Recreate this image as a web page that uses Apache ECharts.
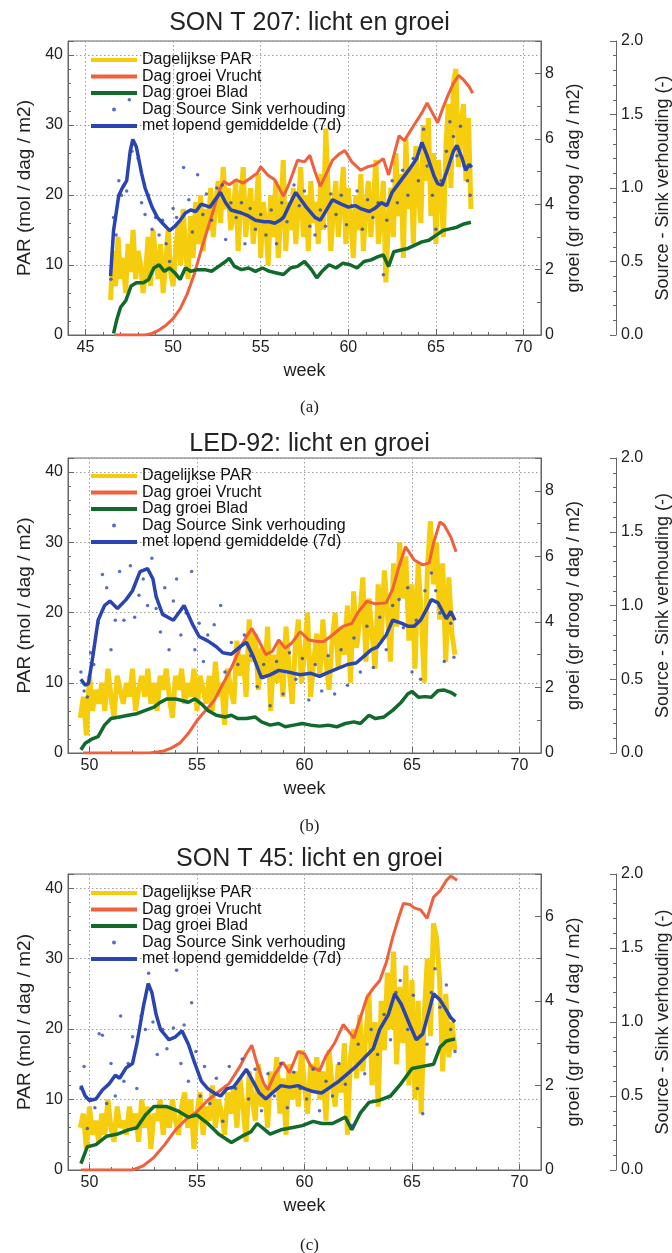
<!DOCTYPE html>
<html><head><meta charset="utf-8">
<script src="https://cdn.jsdelivr.net/npm/echarts@6/dist/echarts.min.js"></script>
<style>html,body{margin:0;padding:0;background:#fff}#c{width:672px;height:1253px}</style>
</head><body><div id="c"></div>
<script>
const FONT = '"Liberation Sans", Arial, Helvetica, sans-serif';
const SERIF = '"Liberation Serif", "DejaVu Serif", serif';
const panelTitles = ['SON T 207: licht en groei', 'LED-92: licht en groei', 'SON T 45: licht en groei'];
const captions = ['(a)', '(b)', '(c)'];
const legendNames = ['Dagelijkse PAR', 'Dag groei Vrucht', 'Dag groei Blad', 'Dag Source Sink verhouding', 'met lopend gemiddelde (7d)'];
const axisNames = ['PAR (mol / dag / m2)', 'groei (gr droog / dag / m2)', 'Source - Sink verhouding (-)', 'week'];
const weekMin = [44, 49, 49];
const weekMax = [71, 71, 71];
const parMax = [42, 42, 42];
const groeiMax = [9, 9, 7];
const ratioMax = [2, 2, 2];

// ---------- panel (a) SON T 207 ----------
const parStartA = 46.43; // week of first daily value
const parA = [5,12,7,14,8,11,6, 13,9,15,8,12,10,6, 9,14,7,15,11,8,13, 6,10,15,9,7,12,16,
  10,18,12,8,17,11,19, 13,20,12,18,15,21,14, 19,22,16,24,18,21,15, 17,22,12,19,24,14,18,
  21,13,17,23,11,19,16, 10,20,14,22,11,17,25, 12,19,15,21,13,18,24, 14,20,12,22,16,19,13,
  23,15,29.5,20,12,18,22, 14,19,24,13,21,16,11, 20,15,23,12,18,22,14, 19,25,13,17,22,7.5,16,
  21,14,26,17,23,11,28, 18,24,13,27,20,16,30, 22,31,17,26,13,25,20, 14,27,33,21,36,38,24,
  30,33,22,31,18];
const fruitA = [[46.7,0],[48.4,0],[48.8,0.05],[49.2,0.15],[49.6,0.3],[50.0,0.5],[50.4,0.8],[50.8,1.25],[51.2,1.85],[51.6,2.6],[52.0,3.3],[52.4,4.0],[52.7,4.5],[52.9,4.7],[53.2,4.6],[53.6,4.75],[54.0,4.65],[54.4,4.8],[54.8,4.95],[55.0,5.15],[55.4,4.9],[55.8,4.75],[56.1,4.45],[56.3,4.25],[56.6,4.6],[57.1,5.35],[57.5,5.3],[57.8,5.5],[58.1,5.0],[58.4,4.55],[58.8,5.0],[59.1,5.35],[59.5,5.55],[59.8,5.65],[60.2,5.3],[60.7,5.05],[61.1,5.15],[61.5,5.2],[62.0,5.4],[62.3,4.9],[62.6,5.5],[62.9,6.1],[63.2,5.95],[63.6,6.3],[63.9,6.55],[64.2,6.8],[64.5,7.1],[64.8,6.8],[65.1,6.5],[65.4,6.95],[65.7,7.35],[66.0,7.7],[66.3,7.95],[66.6,7.8],[66.9,7.6],[67.1,7.4]];
const leafA = [[46.6,0.05],[46.8,0.5],[47.0,0.85],[47.3,1.05],[47.6,1.5],[47.9,1.6],[48.3,1.6],[48.6,1.7],[48.9,2.05],[49.2,2.15],[49.5,1.95],[49.8,2.05],[50.1,1.9],[50.4,1.7],[50.7,2.05],[51.0,1.95],[51.4,2.0],[51.8,2.0],[52.2,1.95],[52.6,2.1],[53.0,2.25],[53.2,2.35],[53.5,2.1],[53.9,2.0],[54.3,2.05],[54.7,1.95],[55.1,2.05],[55.5,1.95],[55.9,1.9],[56.3,1.85],[56.7,2.05],[57.1,2.1],[57.5,2.25],[57.9,2.0],[58.2,1.75],[58.5,1.95],[58.9,2.15],[59.3,2.05],[59.7,2.2],[60.1,2.15],[60.5,2.05],[60.9,2.25],[61.3,2.3],[61.7,2.4],[62.0,2.45],[62.3,2.1],[62.6,2.55],[63.0,2.6],[63.4,2.65],[63.8,2.75],[64.2,2.85],[64.6,2.9],[65.0,3.05],[65.4,3.2],[65.8,3.25],[66.2,3.3],[66.6,3.4],[67.0,3.45]];
const dotsA = [[46.45,0.38],[46.6,0.8],[46.75,0.68],[46.9,1.05],[47.05,0.95],[47.2,1.02],[47.35,0.98],[47.5,1.6],[47.65,1.25],[47.8,1.3],[48.0,1.2],[48.2,0.9],[48.4,0.82],[48.6,0.95],[48.8,0.72],[49.0,0.8],[49.2,0.68],[49.4,0.78],[49.6,0.62],[49.8,0.5],[50.0,0.86],[50.2,0.8],[50.6,1.14],[50.9,0.92],[51.1,0.7],[51.4,1.09],[51.7,0.82],[51.9,0.96],[52.2,0.78],[52.5,1.0],[52.8,1.02],[53.0,0.65],[53.3,0.9],[53.6,0.8],[53.9,0.9],[54.1,0.62],[54.4,0.86],[54.7,0.72],[55.0,0.82],[55.3,0.68],[55.6,0.85],[55.9,0.62],[56.2,0.9],[56.5,0.77],[56.9,1.02],[57.2,0.88],[57.5,0.98],[57.8,0.74],[58.1,0.68],[58.4,0.85],[58.7,0.74],[59.0,0.96],[59.3,0.82],[59.6,0.95],[59.9,0.75],[60.2,0.88],[60.5,0.98],[60.8,0.72],[61.1,0.92],[61.4,0.8],[61.7,0.9],[62.0,0.41],[62.2,0.78],[62.5,1.05],[62.8,0.9],[63.1,1.12],[63.4,0.95],[63.7,1.2],[64.0,1.05],[64.3,1.4],[64.5,1.15],[64.8,0.95],[65.0,0.72],[65.3,1.05],[65.6,1.25],[65.8,1.45],[66.0,1.35],[66.2,1.22],[66.4,1.42],[66.6,1.15],[66.8,1.05],[66.95,0.95]];
const avgA = [[46.43,0.4],[46.6,0.71],[46.9,0.95],[47.1,1.0],[47.35,1.05],[47.55,1.25],[47.7,1.33],[47.9,1.28],[48.2,1.1],[48.4,1.0],[48.8,0.87],[49.1,0.8],[49.4,0.76],[49.8,0.71],[50.1,0.74],[50.4,0.78],[50.7,0.83],[51.0,0.85],[51.3,0.84],[51.6,0.89],[52.1,0.87],[52.4,0.92],[52.7,0.97],[53.0,0.9],[53.3,0.85],[53.6,0.84],[53.9,0.83],[54.3,0.81],[54.7,0.78],[55.2,0.77],[55.5,0.77],[55.8,0.76],[56.1,0.78],[56.3,0.8],[56.7,0.9],[57.0,0.97],[57.3,0.92],[57.6,0.87],[58.1,0.8],[58.4,0.78],[58.8,0.86],[59.1,0.92],[59.6,0.89],[60.0,0.87],[60.4,0.88],[60.7,0.86],[61.2,0.84],[61.5,0.86],[61.9,0.9],[62.2,0.88],[62.5,0.97],[63.0,1.05],[63.5,1.13],[63.9,1.2],[64.2,1.31],[64.5,1.22],[64.9,1.08],[65.1,1.03],[65.35,1.02],[65.7,1.14],[66.0,1.25],[66.2,1.29],[66.5,1.2],[66.7,1.12],[66.9,1.16],[67.05,1.14]];

// ---------- panel (b) LED-92 ----------
const parStartB = 49.57;
const parB = [5,8,2.5,11,6,9,7, 10,6,12,8,5,11,9, 7,10,8,12,6,9,11, 8,12,7,10,6,11,9,
  12,8,5,11,9,12,7, 10,8,12,6,11,9,7, 11,6,13,8,10,4,12, 9,7,16,11,14,8,19,
  13,17,9,15,11,18,6, 14,10,16,8,18,12,7, 15,19,10,14,20,8,13, 17,11,19,13,9,16,20,
  12,18,14,21,10,23,15, 19,25,13,22,17,12,24, 16,26,20,13,27,18,30, 22,28,16,24,12,27,20,
  10,26,33,24,30,19,27, 13,25,17,14];
const fruitB = [[49.7,0],[52.8,0],[53.4,0.05],[53.8,0.15],[54.2,0.3],[54.6,0.6],[55.0,0.99],[55.4,1.3],[55.8,1.6],[56.2,2.1],[56.6,2.6],[57.0,3.2],[57.3,3.55],[57.55,3.8],[57.9,3.4],[58.2,3.0],[58.5,3.1],[58.8,3.45],[59.1,3.2],[59.4,3.35],[59.8,3.7],[60.2,3.45],[60.6,3.4],[60.9,3.4],[61.3,3.6],[61.8,3.87],[62.2,3.95],[62.5,4.3],[62.9,4.63],[63.3,4.55],[63.8,4.58],[64.1,5.0],[64.4,5.7],[64.7,6.29],[65.1,5.89],[65.5,5.74],[65.8,5.8],[66.0,6.4],[66.3,7.05],[66.5,6.95],[66.8,6.6],[67.05,6.14]];
const leafB = [[49.6,0.1],[49.8,0.3],[50.1,0.42],[50.4,0.5],[50.7,0.85],[51.0,1.05],[51.4,1.1],[51.8,1.15],[52.2,1.2],[52.6,1.3],[53.0,1.4],[53.3,1.55],[53.6,1.65],[54.0,1.65],[54.3,1.6],[54.6,1.55],[54.9,1.65],[55.2,1.5],[55.5,1.3],[55.9,1.15],[56.3,1.1],[56.6,1.15],[56.9,1.05],[57.3,1.05],[57.7,1.1],[58.0,0.95],[58.4,0.85],[58.8,0.9],[59.1,0.8],[59.5,0.85],[59.9,0.9],[60.3,0.85],[60.7,0.82],[61.1,0.85],[61.5,0.8],[61.9,0.9],[62.3,0.95],[62.6,0.9],[63.0,1.15],[63.3,1.05],[63.7,1.1],[64.1,1.3],[64.5,1.55],[64.8,1.8],[65.0,1.88],[65.3,1.7],[65.6,1.72],[65.9,1.7],[66.2,1.9],[66.5,1.92],[66.8,1.85],[67.05,1.75]];
const dotsB = [[49.6,0.55],[49.75,0.42],[49.9,0.38],[50.05,0.68],[50.2,0.6],[50.4,0.88],[50.6,1.21],[50.8,1.12],[51.0,0.7],[51.2,0.9],[51.4,1.23],[51.6,0.9],[51.9,1.27],[52.1,0.92],[52.3,1.07],[52.5,1.18],[52.7,1.0],[52.9,1.32],[53.1,0.98],[53.3,0.82],[53.5,1.12],[53.7,0.7],[53.9,1.03],[54.05,1.18],[54.25,0.8],[54.5,0.95],[54.75,1.23],[54.9,0.7],[55.1,0.88],[55.3,0.62],[55.5,0.8],[55.8,0.87],[56.1,1.0],[56.3,0.55],[56.6,0.75],[56.9,0.6],[57.2,0.8],[57.5,0.66],[57.8,0.45],[58.1,0.6],[58.4,0.32],[58.7,0.62],[59.0,0.4],[59.3,0.68],[59.6,0.5],[59.9,0.64],[60.2,0.36],[60.5,0.6],[60.8,0.42],[61.1,0.66],[61.4,0.4],[61.7,0.7],[62.0,0.46],[62.3,0.78],[62.6,0.55],[62.9,0.86],[63.2,0.58],[63.5,0.92],[63.8,0.7],[64.1,1.0],[64.4,1.04],[64.6,0.85],[64.8,1.12],[65.0,0.55],[65.2,0.9],[65.4,0.5],[65.6,1.1],[65.9,1.22],[66.1,1.1],[66.3,0.95],[66.5,0.62],[66.8,0.88],[66.95,0.65]];
const avgB = [[49.6,0.5],[49.8,0.46],[49.95,0.47],[50.15,0.65],[50.4,0.9],[50.7,1.0],[50.95,1.03],[51.3,0.98],[51.7,1.04],[52.0,1.1],[52.35,1.23],[52.7,1.25],[52.95,1.18],[53.1,1.06],[53.4,0.94],[53.9,0.9],[54.4,1.0],[54.8,0.87],[55.1,0.79],[55.5,0.76],[55.9,0.72],[56.2,0.68],[56.6,0.67],[57.0,0.72],[57.3,0.75],[57.6,0.66],[58.0,0.51],[58.4,0.53],[58.8,0.56],[59.2,0.55],[59.8,0.53],[60.3,0.54],[60.7,0.52],[61.0,0.54],[61.5,0.57],[62.0,0.6],[62.4,0.61],[62.8,0.66],[63.1,0.7],[63.4,0.72],[63.8,0.8],[64.1,0.9],[64.5,0.88],[64.8,0.86],[65.1,0.86],[65.4,0.9],[65.7,0.98],[65.9,1.04],[66.2,1.02],[66.6,0.91],[66.8,0.96],[67.0,0.9]];

// ---------- panel (c) SON T 45 ----------
const parStartC = 49.57;
const parC = [6,8,3,9,5,7,4, 8,5,10,6,4,9,6, 7,5,9,6,8,4,10, 6,9,3,8,7,10,5,
  9,6,10,7,5,9,11, 6,10,3,8,11,5,9, 7,12,6,10,8,5,11, 8,12,6,13,9,4,14,
  10,7,15,9,12,6,14, 11,16,8,13,5,15,10, 14,9,17,12,8,15,11, 16,10,14,7,17,12,9,
  15,11,18,5,16,20,13, 22,14,19,25,12,21,9, 24,17,28,20,31,15,26, 18,29,12,27,10,24,8,
  22,30,19,35,33,27,14, 25,16,21,17];
const fruitC = [[49.6,0],[52.0,0],[52.5,0.1],[53.0,0.3],[53.5,0.6],[54.0,0.95],[54.5,1.2],[55.0,1.38],[55.5,1.65],[56.0,1.85],[56.5,2.05],[57.0,2.45],[57.3,2.75],[57.55,2.95],[57.8,2.5],[58.1,2.05],[58.3,1.9],[58.6,2.25],[59.0,2.55],[59.3,2.3],[59.7,2.8],[60.0,2.75],[60.3,2.45],[60.7,2.35],[61.0,2.7],[61.4,3.0],[61.8,3.44],[62.3,3.12],[62.6,3.6],[62.9,4.08],[63.2,4.3],[63.5,4.48],[63.8,4.9],[64.1,5.5],[64.4,6.0],[64.6,6.3],[64.9,6.28],[65.1,6.2],[65.4,6.15],[65.7,5.95],[66.0,6.45],[66.3,6.6],[66.6,6.85],[66.8,6.95],[67.1,6.85]];
const leafC = [[49.6,0.15],[49.9,0.55],[50.3,0.6],[50.8,0.8],[51.3,0.85],[51.8,0.95],[52.2,1.0],[52.6,1.3],[53.0,1.5],[53.6,1.5],[54.1,1.4],[54.6,1.25],[55.0,1.3],[55.5,1.1],[56.0,0.85],[56.6,0.65],[57.1,0.8],[57.5,0.9],[57.8,1.1],[58.4,0.85],[58.9,0.95],[59.4,1.0],[59.9,1.05],[60.4,1.15],[60.8,1.1],[61.3,1.1],[61.9,1.25],[62.2,0.95],[62.6,1.35],[63.0,1.6],[63.5,1.65],[64.0,1.75],[64.5,2.05],[65.0,2.4],[65.5,2.45],[66.0,2.5],[66.3,2.9],[66.6,3.05],[67.0,3.1]];
const dotsC = [[49.6,0.55],[49.75,0.7],[49.9,0.28],[50.05,0.48],[50.25,0.42],[50.45,0.92],[50.6,0.91],[50.8,0.45],[51.0,0.72],[51.2,0.5],[51.45,1.04],[51.6,0.6],[51.8,0.72],[52.0,0.9],[52.2,0.55],[52.4,1.04],[52.6,0.95],[52.75,1.33],[52.95,1.0],[53.15,0.78],[53.4,0.95],[53.6,0.82],[53.9,0.96],[54.05,1.35],[54.25,0.72],[54.4,0.98],[54.6,0.6],[54.75,1.13],[54.95,0.8],[55.15,0.5],[55.35,0.7],[55.6,0.45],[55.9,0.62],[56.2,0.33],[56.5,0.7],[56.8,0.55],[57.1,0.75],[57.4,0.48],[57.7,0.68],[58.0,0.4],[58.3,0.65],[58.6,0.5],[58.9,0.72],[59.2,0.42],[59.5,0.66],[59.8,0.55],[60.1,0.48],[60.4,0.68],[60.7,0.4],[61.0,0.6],[61.3,0.5],[61.6,0.72],[61.9,0.58],[62.2,0.3],[62.5,0.85],[62.8,0.65],[63.1,0.95],[63.4,0.78],[63.7,1.05],[64.0,0.88],[64.25,1.2],[64.45,1.28],[64.8,0.95],[65.06,1.18],[65.25,0.55],[65.5,0.38],[65.7,0.85],[65.9,1.2],[66.07,1.36],[66.3,1.1],[66.6,1.25],[66.8,0.95],[67.0,0.8]];
const avgC = [[49.6,0.57],[49.8,0.5],[50.0,0.47],[50.3,0.48],[50.6,0.54],[50.9,0.58],[51.2,0.64],[51.4,0.62],[51.7,0.69],[52.0,0.72],[52.2,0.85],[52.5,1.1],[52.73,1.26],[52.9,1.2],[53.1,1.05],[53.3,0.95],[53.7,0.88],[54.0,0.9],[54.3,0.94],[54.6,0.85],[54.9,0.72],[55.2,0.6],[55.5,0.55],[55.8,0.52],[56.1,0.5],[56.4,0.55],[56.7,0.56],[57.0,0.62],[57.3,0.68],[57.6,0.6],[57.9,0.52],[58.2,0.48],[58.5,0.52],[58.9,0.57],[59.3,0.56],[59.7,0.57],[60.0,0.55],[60.4,0.53],[60.8,0.52],[61.2,0.56],[61.6,0.6],[62.0,0.65],[62.4,0.7],[62.8,0.76],[63.2,0.82],[63.5,0.95],[63.9,1.05],[64.2,1.19],[64.5,1.12],[64.9,0.98],[65.2,0.88],[65.5,0.92],[65.8,1.08],[66.0,1.19],[66.3,1.15],[66.6,1.08],[66.8,1.03],[67.0,1.0]];

// ---------- build chart ----------
const panels = [
  {par: parA, start: parStartA, fruit: fruitA, leaf: leafA, dots: dotsA, avg: avgA},
  {par: parB, start: parStartB, fruit: fruitB, leaf: leafB, dots: dotsB, avg: avgB},
  {par: parC, start: parStartC, fruit: fruitC, leaf: leafC, dots: dotsC, avg: avgC}
];
const layout = [
  {top: 41, height: 294, legendTop: 52, titleTop: 6, capTop: 394},
  {top: 458, height: 295, legendTop: 468, titleTop: 427, capTop: 813},
  {top: 874, height: 296, legendTop: 885, titleTop: 842, capTop: 1232}
];
const GL = 68, GW = 473;
const AX = '#666', TXT = '#222';
const YEL = '#f5cd0c', RED = '#f0603c', GRN = '#11692b', BLU = '#2a44b0', DOT = '#3149b8';

const grid = [], xAxis = [], yAxis = [], series = [], title = [], legend = [];
const lbl = {fontSize: 16, color: TXT, fontFamily: FONT};
const nameStyle = {fontSize: 18, color: TXT, fontFamily: FONT};
const nameStyleL = {fontSize: 19, color: TXT, fontFamily: FONT};
const dotted = {show: true, lineStyle: {color: '#9a9a9a', width: 1, type: [1.5, 2.5]}};

panels.forEach((P, p) => {
  const L = layout[p];
  grid.push({left: GL, top: L.top, width: GW, height: L.height, show: true,
    outerBoundsMode: 'none', containLabel: false,
    borderColor: AX, borderWidth: 1, backgroundColor: 'rgba(0,0,0,0)'});
  xAxis.push({type: 'value', gridIndex: p, min: weekMin[p], max: weekMax[p],
    minInterval: 5, maxInterval: 5, splitNumber: 5,
    name: axisNames[3], nameLocation: 'middle', nameGap: 27, nameTextStyle: nameStyle,
    axisLine: {show: true, onZero: false, lineStyle: {color: AX}},
    axisTick: {show: true, inside: true, length: 6, lineStyle: {color: AX}},
    minorTick: {show: true, splitNumber: 5, length: 3, lineStyle: {color: AX}},
    axisLabel: Object.assign({margin: 5, formatter: v => (v % 5 === 0 ? String(v) : '')}, lbl),
    splitLine: dotted});
  yAxis.push({type: 'value', gridIndex: p, position: 'left', min: 0, max: parMax[p], interval: 10,
    name: axisNames[0], nameLocation: 'middle', nameGap: 30, nameRotate: 90, nameTextStyle: nameStyleL,
    axisLine: {show: true, onZero: false, lineStyle: {color: AX}},
    axisTick: {show: true, inside: true, length: 6, lineStyle: {color: AX}},
    minorTick: {show: true, splitNumber: 5, length: 3, lineStyle: {color: AX}},
    axisLabel: Object.assign({margin: 5, formatter: v => (v % 10 === 0 ? String(v) : '')}, lbl),
    splitLine: dotted});
  yAxis.push({type: 'value', gridIndex: p, position: 'right', min: 0, max: groeiMax[p], interval: 2,
    name: axisNames[1], nameLocation: 'middle', nameGap: 20, nameRotate: 90, nameTextStyle: nameStyle,
    axisLine: {show: true, onZero: false, lineStyle: {color: AX}},
    axisTick: {show: true, inside: true, length: 6, lineStyle: {color: AX}},
    minorTick: {show: true, splitNumber: 2, length: 4, lineStyle: {color: AX}},
    axisLabel: Object.assign({margin: 4, formatter: v => (v % 2 === 0 ? String(v) : '')}, lbl),
    splitLine: {show: false}});
  yAxis.push({type: 'value', gridIndex: p, position: 'right', offset: 75, min: 0, max: ratioMax[p], interval: 0.5,
    name: axisNames[2], nameLocation: 'middle', nameGap: 35, nameRotate: 90, nameTextStyle: nameStyle,
    axisLine: {show: true, onZero: false, lineStyle: {color: AX}},
    axisTick: {show: true, inside: true, length: 6, lineStyle: {color: AX}},
    minorTick: {show: true, splitNumber: 5, length: 3, lineStyle: {color: AX}},
    axisLabel: Object.assign({margin: 5, formatter: v => v.toFixed(1)}, lbl),
    splitLine: {show: false}});

  title.push({text: panelTitles[p], left: GL + GW / 2, top: L.titleTop, textAlign: 'center',
    textStyle: {fontSize: 25, fontWeight: 'normal', color: TXT, fontFamily: FONT}});
  title.push({text: captions[p], left: GL + GW / 2, top: L.capTop, textAlign: 'center',
    textStyle: {fontSize: 17, fontWeight: 'normal', color: TXT, fontFamily: SERIF}});

  legend.push({orient: 'vertical', left: 91, top: L.legendTop, padding: 0, itemGap: 0.5,
    itemWidth: 46, itemHeight: 4, selectedMode: false,
    data: legendNames.map((n, i) => ({name: n, icon: i === 3 ? 'circle' : 'rect'})),
    textStyle: {fontSize: 16, lineHeight: 16, color: '#111', fontFamily: FONT}});

  const xi = p, yPar = 3 * p, yG = 3 * p + 1, yR = 3 * p + 2;
  series.push({name: legendNames[0], type: 'line', xAxisIndex: xi, yAxisIndex: yPar, z: 2,
    data: P.par.map((v, i) => [P.start + i / 7, v]), symbol: 'none', showSymbol: false,
    lineStyle: {color: YEL, width: 5}, itemStyle: {color: YEL}});
  series.push({name: legendNames[1], type: 'line', xAxisIndex: xi, yAxisIndex: yG, z: 3,
    data: P.fruit, symbol: 'none', showSymbol: false,
    lineStyle: {color: RED, width: 3}, itemStyle: {color: RED}});
  series.push({name: legendNames[2], type: 'line', xAxisIndex: xi, yAxisIndex: yG, z: 4,
    data: P.leaf, symbol: 'none', showSymbol: false,
    lineStyle: {color: GRN, width: 3.5}, itemStyle: {color: GRN}});
  series.push({name: legendNames[3], type: 'scatter', xAxisIndex: xi, yAxisIndex: yR, z: 5,
    data: P.dots, symbol: 'circle', symbolSize: 3.5, itemStyle: {color: DOT}});
  series.push({name: legendNames[4], type: 'line', xAxisIndex: xi, yAxisIndex: yR, z: 6,
    data: P.avg, symbol: 'none', showSymbol: false,
    lineStyle: {color: BLU, width: 3.5}, itemStyle: {color: BLU}});
});

const chart = echarts.init(document.getElementById('c'), null, {renderer: 'canvas', width: 672, height: 1253});
chart.setOption({
  animation: false,
  backgroundColor: '#fff',
  textStyle: {fontFamily: FONT},
  title, legend, grid, xAxis, yAxis, series
});
</script>
</body></html>
